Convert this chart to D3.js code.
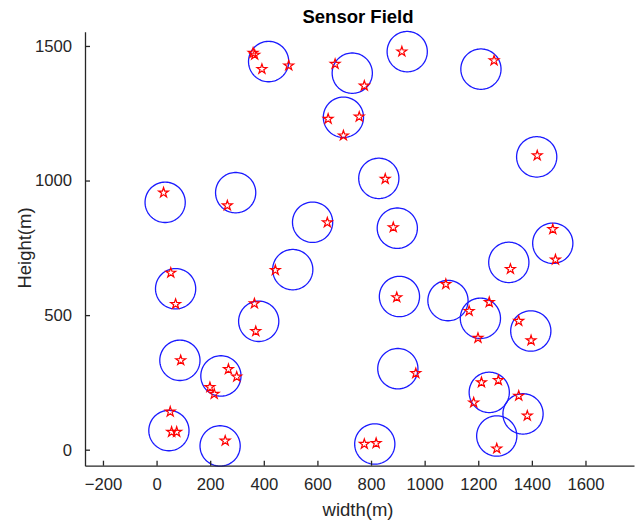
<!DOCTYPE html>
<html>
<head>
<meta charset="utf-8">
<script src="https://cdn.jsdelivr.net/npm/d3@7"></script>
<style>
  html, body { margin: 0; padding: 0; background: #fff; }
  svg { display: block; }
  text { font-family: Arial, "Liberation Sans", Helvetica, sans-serif; }
</style>
</head>
<body>
<svg id="chart" width="640" height="526"></svg>
<script>
// Sensor coverage circles (centres, metres)
const sensorX = [418, 730, 935, 1210, 697, 1418, 829, 32, 295, 582, 898, 508, 381, 71,
                 87, 240, 46, 237, 814, 900, 906, 1087, 1208, 1396, 1241, 1367, 1269, 1314, 1478];
const sensorY = [1442, 1399, 1479, 1414, 1235, 1088, 1008, 919, 955, 845, 823, 669, 477, 598,
                 332, 274, 71, 14, 21, 301, 569, 554, 488, 441, 213, 133, 51, 696, 767];
const sensorRange = 75;

// Target points (metres)
const targetX = [366, 360, 393, 493, 666, 775, 915, 1259, 640, 756, 697, 1420, 853, 26, 264,
                 637, 883, 443, 365, 370, 53, 71, 90, 268, 299, 199, 215, 51, 56, 75, 256,
                 775, 819, 967, 896, 1079, 1166, 1241, 1199, 1351, 1397, 1212, 1275, 1183,
                 1351, 1383, 1269, 1320, 1478, 1488];
const targetY = [1467, 1474, 1414, 1427, 1433, 1352, 1479, 1446, 1229, 1237, 1167, 1093, 1006, 955, 907,
                 844, 826, 667, 543, 440, 657, 541, 332, 299, 271, 232, 207, 141, 66, 66, 33,
                 21, 24, 284, 566, 615, 515, 548, 415, 478, 406, 250, 258, 175,
                 200, 126, 4, 671, 819, 706];

const xTicks = [-200, 0, 200, 400, 600, 800, 1000, 1200, 1400, 1600];
const yTicks = [0, 500, 1000, 1500];

const svg = d3.select("#chart");
const axisColor = "#262626";

const x = d3.scaleLinear().domain([-267, 1781]).range([85, 634]);
const y = d3.scaleLinear().domain([-59.5, 1553]).range([465.7, 31.7]);

// Coverage circles, traced through both scales
const angles = d3.range(0, 361, 4).map(a => a * Math.PI / 180);
const ring = d3.line();
svg.append("g")
  .selectAll("path")
  .data(sensorX.map((cx, i) => [cx, sensorY[i]]))
  .join("path")
  .attr("d", d => ring(angles.map(a => [x(d[0] + sensorRange * Math.cos(a)), y(d[1] + sensorRange * Math.sin(a))])) + "Z")
  .attr("fill", "none")
  .attr("stroke", "#1a1aff")
  .attr("stroke-width", 1.3);

// Targets as pentagram markers
const star = d3.symbol().type(d3.symbolStar).size(30);
svg.append("g")
  .selectAll("path")
  .data(targetX.map((tx, i) => [tx, targetY[i]]))
  .join("path")
  .attr("transform", d => `translate(${x(d[0])},${y(d[1])})`)
  .attr("d", star)
  .attr("fill", "none")
  .attr("stroke", "#ff0000")
  .attr("stroke-width", 1.2);

// Axes (ticks pointing inward)
const fmt = d3.format("d");
const xAxis = d3.axisBottom(x).tickValues(xTicks).tickFormat(fmt).tickSizeInner(-5).tickSizeOuter(0).tickPadding(12);
const yAxis = d3.axisLeft(y).tickValues(yTicks).tickFormat(fmt).tickSizeInner(-5).tickSizeOuter(0).tickPadding(13);

const gx = svg.append("g").attr("transform", `translate(0,${y.range()[0]})`).call(xAxis);
const gy = svg.append("g").attr("transform", `translate(${x.range()[0]},0)`).call(yAxis);

[gx, gy].forEach(g => {
  g.select(".domain").attr("stroke", axisColor).attr("stroke-width", 1.3);
  g.selectAll(".tick line").attr("stroke", axisColor).attr("stroke-width", 1.3);
  g.selectAll(".tick text").attr("fill", axisColor).style("font-size", "16.7px");
});

// Title and axis labels
svg.append("text")
  .attr("x", 358).attr("y", 23)
  .attr("text-anchor", "middle")
  .style("font-size", "18.5px").style("font-weight", "bold")
  .attr("fill", "#000")
  .text("Sensor Field");

svg.append("text")
  .attr("x", 358).attr("y", 516)
  .attr("text-anchor", "middle")
  .style("font-size", "18.5px")
  .attr("fill", axisColor)
  .text("width(m)");

svg.append("text")
  .attr("transform", "translate(31,248) rotate(-90)")
  .attr("text-anchor", "middle")
  .style("font-size", "18.5px")
  .attr("fill", axisColor)
  .text("Height(m)");
</script>
</body>
</html>
